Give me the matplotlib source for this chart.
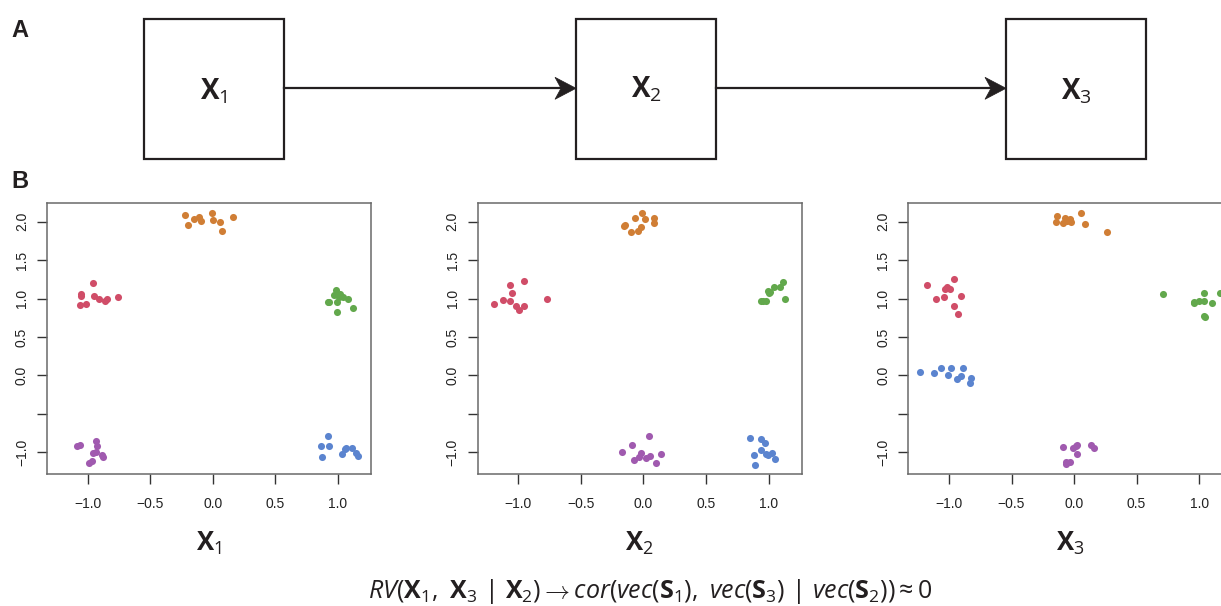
import matplotlib
matplotlib.use("Agg")
import matplotlib.pyplot as plt
from matplotlib.patches import Rectangle, Polygon
from matplotlib.lines import Line2D

plt.rcParams["mathtext.fontset"] = "custom"
plt.rcParams["mathtext.rm"] = "Open Sans"
plt.rcParams["mathtext.it"] = "Open Sans:italic"
plt.rcParams["mathtext.bf"] = "Open Sans:bold"

W, H = 1221, 606

# colours of the five groups
group_colors = {
    "orange": "#D07E35",
    "red": "#D04D68",
    "green": "#62A84C",
    "blue": "#5B84CF",
    "purple": "#A05AAF",
}

# panel X1
p1_orange_x = [-0.219, -0.197, -0.152, -0.109, -0.091, -0.005, 0.005, 0.056, 0.072, 0.163]
p1_orange_y = [2.087, 1.957, 2.039, 2.065, 2.009, 2.117, 2.017, 1.991, 1.879, 2.061]
p1_red_x = [-1.053, -1.056, -1.064, -1.016, -0.957, -0.949, -0.907, -0.861, -0.848, -0.760]
p1_red_y = [1.059, 1.033, 0.916, 0.929, 1.202, 1.033, 0.999, 0.964, 0.999, 1.020]
p1_green_x = [0.987, 0.973, 0.933, 0.925, 0.992, 1.019, 1.040, 1.080, 0.997, 1.123, 1.011]
p1_green_y = [1.111, 1.042, 0.960, 0.960, 0.960, 1.055, 1.016, 0.990, 0.821, 0.877, 1.025]
p1_blue_x = [0.864, 0.875, 0.925, 0.933, 1.032, 1.059, 1.067, 1.112, 1.147, 1.160]
p1_blue_y = [-0.922, -1.056, -0.783, -0.913, -1.026, -0.961, -0.948, -0.939, -1.013, -1.047]
p1_purple_x = [-1.083, -1.061, -0.931, -0.928, -0.960, -0.936, -0.883, -0.880, -0.989, -0.968]
p1_purple_y = [-0.922, -0.904, -0.848, -0.917, -1.008, -1.000, -1.034, -1.060, -1.143, -1.108]

# panel X2
p2_orange_x = [-0.152, -0.147, -0.067, -0.008, 0.016, 0.083, 0.088, -0.019, -0.045, -0.096]
p2_orange_y = [1.944, 1.957, 2.052, 2.108, 2.039, 2.043, 1.987, 1.935, 1.874, 1.866]
p2_red_x = [-1.192, -1.123, -1.067, -1.064, -1.051, -1.016, -0.995, -0.957, -0.957, -0.771]
p2_red_y = [0.925, 0.986, 0.964, 1.176, 1.072, 0.899, 0.851, 0.899, 1.224, 0.994]
p2_green_x = [0.939, 0.957, 0.976, 0.995, 1.003, 1.008, 1.040, 1.093, 1.117, 1.133]
p2_green_y = [0.973, 0.973, 0.973, 1.103, 1.068, 1.085, 1.146, 1.146, 1.211, 0.994]
p2_blue_x = [0.853, 0.883, 0.891, 0.936, 0.939, 0.968, 0.981, 0.995, 1.029, 1.053]
p2_blue_y = [-0.813, -1.039, -1.164, -0.826, -0.974, -0.874, -1.017, -1.034, -1.008, -1.091]
p2_purple_x = [-0.168, -0.093, -0.072, -0.035, -0.021, 0.021, 0.043, 0.053, 0.104, 0.144]
p2_purple_y = [-1.000, -0.909, -1.099, -1.065, -1.004, -1.073, -0.792, -1.052, -1.143, -1.026]

# panel X3
p3_orange_x = [-0.140, -0.146, -0.089, -0.073, -0.057, -0.036, -0.031, -0.025, 0.055, 0.087, 0.263]
p3_orange_y = [2.069, 1.996, 1.987, 2.043, 2.009, 2.026, 2.039, 1.996, 2.113, 1.970, 1.870]
p3_red_x = [-1.176, -1.101, -1.043, -1.029, -1.016, -0.989, -0.962, -0.906, -0.962, -0.930]
p3_red_y = [1.181, 0.990, 1.016, 1.120, 1.150, 1.120, 1.250, 1.029, 0.899, 0.804]
p3_green_x = [0.709, 0.957, 0.962, 1.000, 1.040, 1.040, 1.104, 1.166, 1.040, 1.043]
p3_green_y = [1.055, 0.942, 0.955, 0.968, 0.968, 1.077, 0.946, 1.068, 0.773, 0.756]
p3_blue_x = [-1.232, -1.120, -1.061, -1.011, -0.987, -0.936, -0.907, -0.888, -0.827, -0.829]
p3_blue_y = [0.049, 0.028, 0.101, 0.002, 0.093, -0.042, -0.003, 0.101, -0.029, -0.094]
p3_purple_x = [-0.087, -0.009, 0.017, 0.025, 0.020, 0.132, 0.159, -0.065, -0.063, -0.031]
p3_purple_y = [-0.926, -0.939, -0.913, -0.904, -1.026, -0.909, -0.943, -1.121, -1.156, -1.121]

panels = [
    {"orange": (p1_orange_x, p1_orange_y), "red": (p1_red_x, p1_red_y),
     "green": (p1_green_x, p1_green_y), "blue": (p1_blue_x, p1_blue_y),
     "purple": (p1_purple_x, p1_purple_y)},
    {"orange": (p2_orange_x, p2_orange_y), "red": (p2_red_x, p2_red_y),
     "green": (p2_green_x, p2_green_y), "blue": (p2_blue_x, p2_blue_y),
     "purple": (p2_purple_x, p2_purple_y)},
    {"orange": (p3_orange_x, p3_orange_y), "red": (p3_red_x, p3_red_y),
     "green": (p3_green_x, p3_green_y), "blue": (p3_blue_x, p3_blue_y),
     "purple": (p3_purple_x, p3_purple_y)},
]
panel_labels = [r"$\mathbf{X}_1$", r"$\mathbf{X}_2$", r"$\mathbf{X}_3$"]

x_ticks = [-1.0, -0.5, 0.0, 0.5, 1.0]
x_ticklabels = ["\u22121.0", "\u22120.5", "0.0", "0.5", "1.0"]
y_ticks = [-1.0, -0.5, 0.0, 0.5, 1.0, 1.5, 2.0]
y_ticklabels = ["\u22121.0", "", "0.0", "0.5", "1.0", "1.5", "2.0"]

equation = (r"$\mathit{RV}(\mathbf{X}_1,\ \mathbf{X}_3\ |\ \mathbf{X}_2)\rightarrow"
            r"\mathit{cor}(\mathit{vec}(\mathbf{S}_1),\ \mathit{vec}(\mathbf{S}_3)\ |\ "
            r"\mathit{vec}(\mathbf{S}_2))\approx0$")


def fx(x):
    return x / W


def fy(y):
    return 1 - y / H


fig = plt.figure(figsize=(W / 100, H / 100), dpi=100)

# --- panel A: the chain diagram ---
box_left = [143.5, 576, 1006]
box_size = 140
box_top = 19
box_text_base = [100, 97, 100]
ink = "#231F20"

for i, left in enumerate(box_left):
    fig.add_artist(Rectangle((fx(left), fy(box_top + box_size)), box_size / W, box_size / H,
                             transform=fig.transFigure, fill=False, lw=1.6, ec=ink))
    fig.text(fx(left + box_size / 2), fy(box_text_base[i]), panel_labels[i],
             ha="center", va="baseline", fontsize=20, color=ink)

arrow_y = 88.3
for i in range(2):
    x0 = box_left[i] + box_size
    x1 = box_left[i + 1]
    fig.add_artist(Line2D([fx(x0), fx(x1 - 10)], [fy(arrow_y), fy(arrow_y)],
                          transform=fig.transFigure, lw=1.6, color=ink))
    head = [(fx(x1), fy(arrow_y)), (fx(x1 - 21), fy(arrow_y - 11)),
            (fx(x1 - 15), fy(arrow_y)), (fx(x1 - 21), fy(arrow_y + 11))]
    fig.add_artist(Polygon(head, closed=True, transform=fig.transFigure, fc=ink, ec=ink, lw=0.5))

fig.text(fx(11), fy(37), "A", fontsize=17, fontweight="bold", family="Liberation Sans",
         ha="left", va="baseline", color=ink)
fig.text(fx(11), fy(188), "B", fontsize=17, fontweight="bold", family="Liberation Sans",
         ha="left", va="baseline", color=ink)

# --- panel B: the three scatter plots ---
ax_left = [47, 477.7, 908.3]
ax_w = 324
ax_top, ax_bottom = 202.7, 474.3

for i, data in enumerate(panels):
    ax = fig.add_axes([fx(ax_left[i]), fy(ax_bottom), ax_w / W, (ax_bottom - ax_top) / H])
    for name, (xs, ys) in data.items():
        ax.scatter(xs, ys, s=26, color=group_colors[name], linewidths=0, zorder=3)
    ax.set_xlim(-1.325, 1.265)
    ax.set_ylim(-1.286, 2.247)
    ax.set_xticks(x_ticks)
    ax.set_xticklabels(x_ticklabels, family="Liberation Sans", fontsize=10, color="#222222")
    ax.set_yticks(y_ticks)
    ax.set_yticklabels(y_ticklabels, family="Liberation Sans", fontsize=10, color="#222222",
                       rotation=90, va="center")
    ax.tick_params(axis="x", length=7, width=1, color="#333333", pad=9)
    ax.tick_params(axis="y", length=7, width=1, color="#333333", pad=6)
    for sp in ax.spines.values():
        sp.set_color("#6a6a6a")
        sp.set_linewidth(1.1)
    ax.set_xlabel(panel_labels[i], fontsize=18.5, color=ink, labelpad=14)

fig.text(fx(650), fy(598), equation, ha="center", va="baseline", fontsize=18, color=ink)

fig.savefig("out.png", dpi=100)
